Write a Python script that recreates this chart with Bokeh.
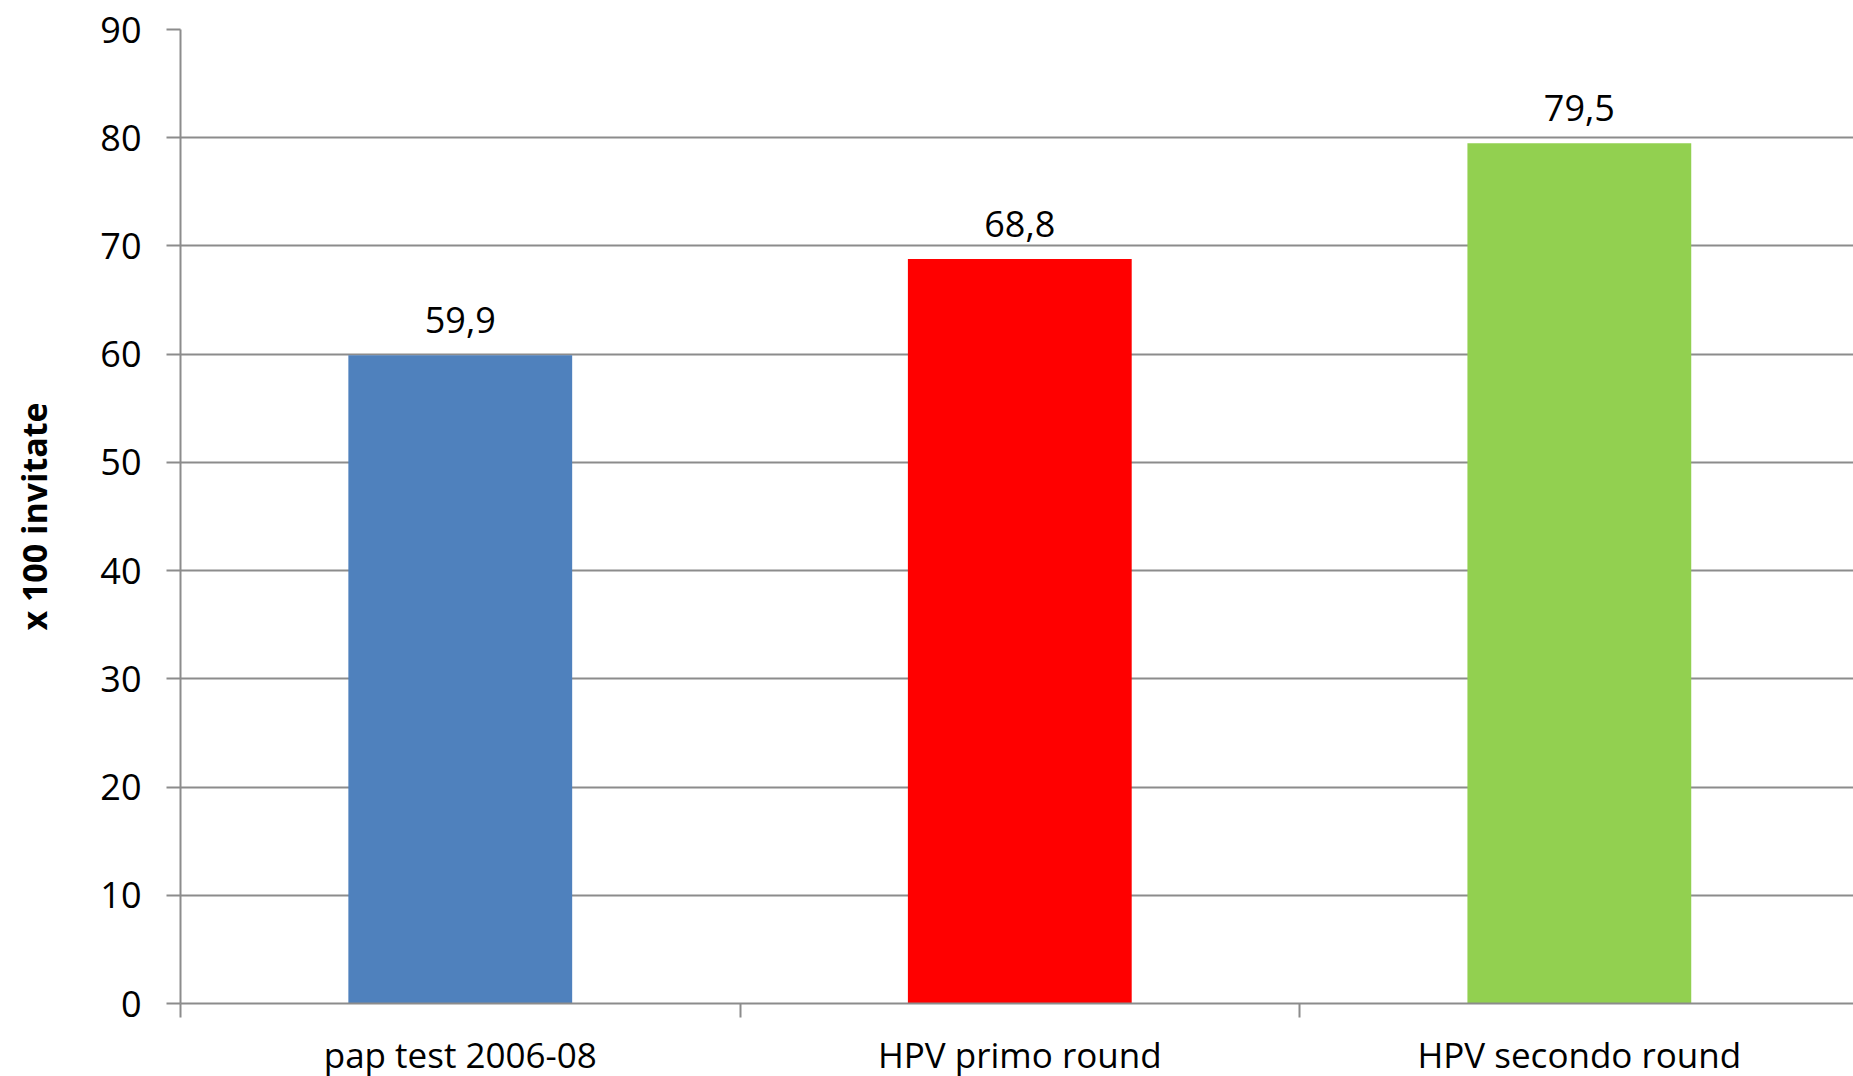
from bokeh.plotting import figure
from bokeh.models import Range1d, FixedTicker, ColumnDataSource
from bokeh.embed import file_html
from bokeh.resources import INLINE
from bokeh.core.properties import value

categories = ["pap test 2006-08", "HPV primo round", "HPV secondo round"]
values = [59.9, 68.8, 79.5]
colors = ["#4F81BD", "#FF0000", "#92D050"]
y_ticks = [0, 10, 20, 30, 40, 50, 60, 70, 80, 90]
labels = [f"{v:.1f}".replace(".", ",") for v in values]

xs = [i + 0.5 for i in range(len(categories))]
src = ColumnDataSource(dict(x=xs, top=values, color=colors, label=labels))

FONT = "Open Sans"
GRID = "#8C8C8C"

p = figure(
    output_backend="svg", toolbar_location=None,
    frame_width=1673, frame_height=974,
    min_border_left=180, min_border_right=0, min_border_top=29, min_border_bottom=0,
    x_range=Range1d(0, 2.99), y_range=Range1d(0, 90),
)
p.outline_line_color = None
p.background_fill_color = "white"
p.border_fill_color = "white"

p.vbar(x="x", top="top", bottom=0, width=0.4, color="color", source=src, line_color=None)
p.text(x="x", y="top", text="label", source=src, text_align="center",
       text_baseline="alphabetic", y_offset=-35,
       text_font=value(FONT), text_font_size="36px", text_color="black")

# x axis
xa = p.xaxis[0]
xa.ticker = FixedTicker(ticks=xs, minor_ticks=[0, 1, 2, 3])
xa.major_label_overrides = {x: c for x, c in zip(xs, categories)}
xa.major_tick_out = 0
xa.major_tick_in = 0
xa.minor_tick_out = 14
xa.minor_tick_in = 0
xa.minor_tick_line_color = GRID
xa.minor_tick_line_width = 2
xa.axis_line_color = GRID
xa.axis_line_width = 2
xa.major_label_standoff = 13
xa.major_label_text_font = FONT
xa.major_label_text_font_size = "35px"
xa.major_label_text_color = "black"

# y axis
ya = p.yaxis[0]
ya.ticker = FixedTicker(ticks=y_ticks, minor_ticks=[])
ya.major_tick_out = 14
ya.major_tick_in = 0
ya.major_tick_line_color = GRID
ya.major_tick_line_width = 2
ya.axis_line_color = GRID
ya.axis_line_width = 2
ya.major_label_standoff = 25
ya.major_label_text_font = FONT
ya.major_label_text_font_size = "36px"
ya.major_label_text_color = "black"
ya.axis_label = "x 100 invitate"
ya.axis_label_text_font = FONT
ya.axis_label_text_font_size = "34px"
ya.axis_label_text_font_style = "bold"
ya.axis_label_text_color = "black"
ya.axis_label_standoff = 40

p.xgrid.grid_line_color = None
p.ygrid.ticker = FixedTicker(ticks=y_ticks)
p.ygrid.grid_line_color = GRID
p.ygrid.grid_line_width = 2

open("out.html", "w").write(file_html(p, INLINE))
